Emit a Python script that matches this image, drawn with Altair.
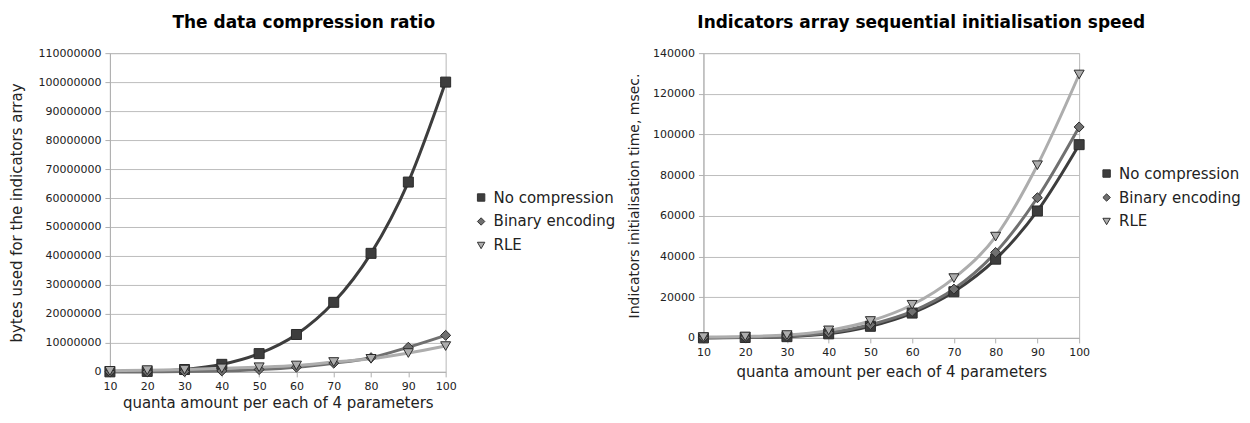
import altair as alt
import pandas as pd

quanta = [10, 20, 30, 40, 50, 60, 70, 80, 90, 100]
series = ["No compression", "Binary encoding", "RLE"]

# bytes used for the indicators array
bytes_nc = [10000, 160000, 810000, 2600000, 6300000, 12900000, 24000000, 40900000, 65500000, 100000000]
bytes_bin = [1000, 20000, 100000, 330000, 800000, 1600000, 3000000, 4900000, 8500000, 12600000]
bytes_rle = [350000, 600000, 800000, 1200000, 1600000, 2200000, 3400000, 4500000, 6500000, 8900000]

# initialisation time, msec
time_nc = [0, 200, 600, 2000, 5700, 12200, 22700, 38700, 62400, 95000]
time_bin = [100, 300, 800, 2500, 6500, 13000, 24000, 42000, 68900, 103700]
time_rle = [400, 700, 1400, 3700, 8300, 16300, 29400, 49800, 84900, 129500]

colors = ["#3d3d3d", "#707070", "#adadad"]
shapes = ["square", "diamond", "triangle-down"]
FONT = "DejaVu Sans"


def long_df(values_list):
    rows = []
    for s, vals in zip(series, values_list):
        for q, v in zip(quanta, vals):
            rows.append({"q": q, "series": s, "v": v})
    return pd.DataFrame(rows)


def panel(df, title, ytitle, ymax, ystep, w, h, title_dx, lx, ly,
          ytitle_pad, ytitle_size, xtitle_pad):
    base = alt.Chart(df)
    x = alt.X("q:Q", scale=alt.Scale(domain=[10, 100], nice=False),
              axis=alt.Axis(values=quanta, grid=False, labelFlush=False,
                            title="quanta amount per each of 4 parameters",
                            titlePadding=xtitle_pad))
    y = alt.Y("v:Q", scale=alt.Scale(domain=[0, ymax], nice=False),
              axis=alt.Axis(values=list(range(0, ymax + 1, ystep)), format="d",
                            title=ytitle, titlePadding=ytitle_pad,
                            titleFontSize=ytitle_size))
    leg = alt.Legend(title=None, orient="none", legendX=lx, legendY=ly,
                     labelFont=FONT, labelFontSize=15, labelColor="#222",
                     symbolSize=55, symbolStrokeColor="#333", symbolStrokeWidth=1,
                     rowPadding=8, labelOffset=5)
    color = alt.Color("series:N", scale=alt.Scale(domain=series, range=colors), legend=leg)
    shape = alt.Shape("series:N", scale=alt.Scale(domain=series, range=shapes), legend=leg)
    lines = base.mark_line(strokeWidth=3, interpolate="monotone").encode(
        x=x, y=y,
        stroke=alt.Stroke("series:N", scale=alt.Scale(domain=series, range=colors), legend=None))
    points = base.mark_point(filled=True, size=100, opacity=1, stroke="#2a2a2a",
                             strokeWidth=1).encode(x=x, y=y, color=color, shape=shape)
    return alt.layer(lines, points).properties(
        width=w, height=h,
        title=alt.TitleParams(title, anchor="middle", frame="group", dx=title_dx,
                              offset=15, font=FONT, fontSize=17, fontWeight="bold",
                              color="#000"))


left = panel(long_df([bytes_nc, bytes_bin, bytes_rle]), "The data compression ratio",
             "bytes used for the indicators array", 110000000, 10000000,
             336, 319, 26, 364, 137, 14, 15, 4)
right = panel(long_df([time_nc, time_bin, time_rle]), "Indicators array sequential initialisation speed",
              "Indicators initialisation time, msec.", 140000, 20000,
              376, 285, 30, 396, 113, 11, 14, 7)

chart = alt.hconcat(left, right, spacing=10).resolve_scale(
    x="independent", y="independent", color="independent", shape="independent").properties(
    padding={"left": 0, "top": 5, "right": 0, "bottom": 0},
    background="white"
).configure_view(stroke="#b8b8b8").configure_axis(
    labelFont=FONT, labelFontSize=11, labelColor="#222",
    titleFont=FONT, titleFontSize=15, titleFontWeight="normal", titleColor="#222",
    gridColor="#bdbdbd", domainColor="#b0b0b0", tickColor="#b0b0b0",
    tickSize=5, labelPadding=4
)

chart.save("out.html", embed_options={"renderer": "svg", "actions": False})
